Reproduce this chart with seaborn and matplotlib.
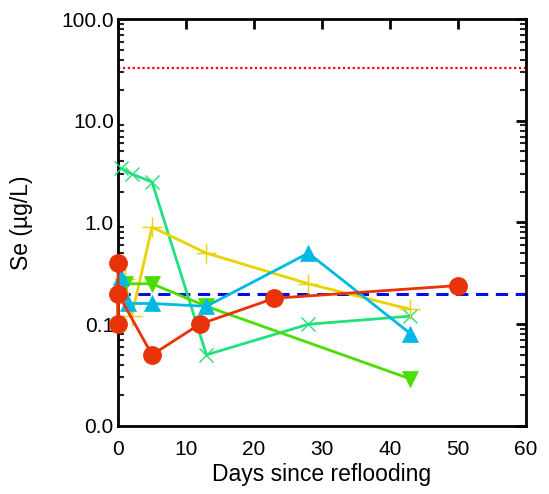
import matplotlib
matplotlib.use("Agg")
import matplotlib.pyplot as plt
import seaborn as sns
import numpy as np
from matplotlib.ticker import FixedLocator, FuncFormatter, LogLocator, NullFormatter

sns.set_style("white")
plt.rcParams['font.family'] = ['Liberation Sans', 'DejaVu Sans']

# data
red_x = [0, 0, 0, 5, 12, 23, 50]
red_y = [0.4, 0.1, 0.2, 0.05, 0.1, 0.18, 0.24]
yel_x = [1, 2, 5, 13, 28, 43]
yel_y = [0.28, 0.12, 0.9, 0.5, 0.25, 0.14]
cyan_x = [0.5, 1.5, 5, 13, 28, 43]
cyan_y = [0.29, 0.16, 0.16, 0.15, 0.5, 0.081]
grn_x = [1, 5, 13, 43]
grn_y = [0.25, 0.25, 0.15, 0.029]
sg_x = [0.5, 2, 5, 13, 28, 43]
sg_y = [3.4, 3.0, 2.5, 0.05, 0.1, 0.12]
blue_ref = 0.2
red_ref = 33.0
x_ticks = [0, 10, 20, 30, 40, 50, 60]
y_ticks = [0.01, 0.1, 1, 10, 100]

fig = plt.figure(figsize=(5.49, 4.94), dpi=100)
ax = fig.add_axes([0.215, 0.1377, 0.743, 0.8238])

ax.axhline(red_ref, color="#FF0000", ls=(0, (1, 1.2)), lw=1.6, zorder=1)
ax.plot([0, 60], [blue_ref, blue_ref], color="#0010E0", ls=(0, (4, 2.5)), lw=2.2, zorder=2)

series = [
    (sg_x, sg_y, "#22E07A", "x", 10, 2.0),
    (yel_x, yel_y, "#E8D200", "+", 15, 2.0),
    (grn_x, grn_y, "#4CDD00", "v", 12, 2.0),
    (cyan_x, cyan_y, "#00B8E6", "^", 12, 2.0),
    (red_x, red_y, "#E83208", "o", 13, 2.0),
]
for xs, ys, col, mk, ms, lw in series:
    sns.lineplot(x=xs, y=ys, ax=ax, estimator=None, sort=False, color=col,
                 marker=mk, markersize=ms, linewidth=lw, markeredgecolor=col,
                 markeredgewidth=1.0 if mk in "x+" else 0.5, clip_on=False, zorder=3)

ax.set_yscale("log")
ax.set_xlim(0, 60)
ax.set_ylim(0.01, 100)
ax.xaxis.set_major_locator(FixedLocator(x_ticks))
ax.yaxis.set_major_locator(FixedLocator(y_ticks))
ax.yaxis.set_minor_locator(LogLocator(base=10, subs=np.arange(2, 10)))
ax.yaxis.set_minor_formatter(NullFormatter())
ax.yaxis.set_major_formatter(FuncFormatter(lambda v, p: f"{v:.1f}"))

for s in ax.spines.values():
    s.set_linewidth(2.0)
    s.set_color("black")
ax.tick_params(axis="both", which="major", direction="in", length=7, width=2,
               top=True, right=True, labelsize=15, colors="black")
ax.tick_params(axis="x", which="major", pad=10)
ax.tick_params(axis="y", which="major", pad=3)
ax.tick_params(axis="y", which="minor", direction="in", length=4.5, width=1.5,
               left=True, right=True)
ax.set_xlabel("Days since reflooding", fontsize=16.5, color="black", labelpad=3)
ax.set_ylabel("Se (µg/L)", fontsize=16.5, color="black", labelpad=20)
ax.grid(False)

fig.savefig("out.png", dpi=100)
